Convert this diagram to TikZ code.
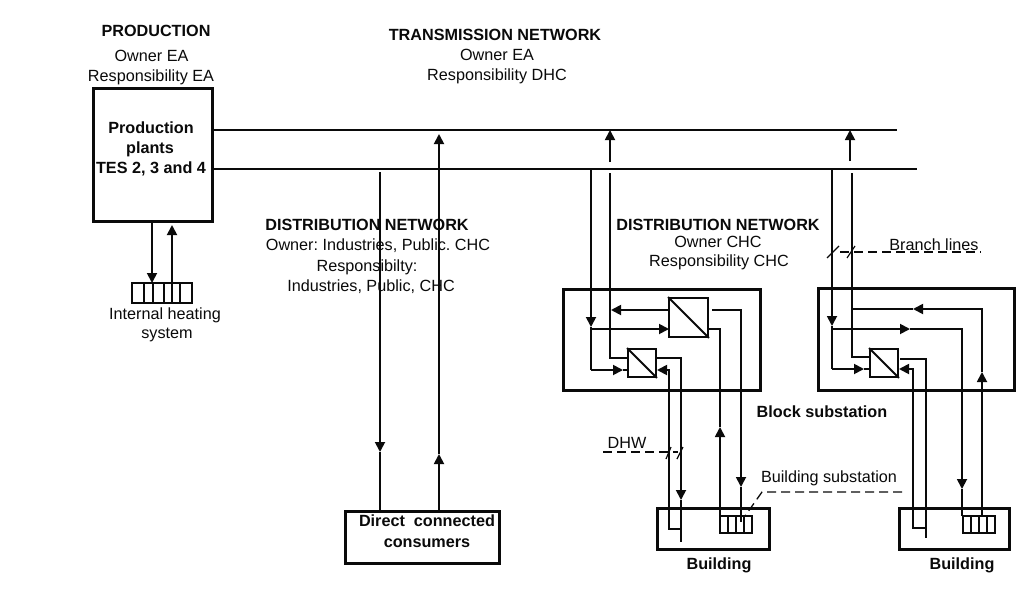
\documentclass[tikz,border=0pt]{standalone}
\usepackage{fontspec}
\setmainfont{Liberation Sans}
\usetikzlibrary{arrows.meta}
\definecolor{ink}{HTML}{0A0A0A}
\frenchspacing
\tikzset{
  x=1pt,y=-1pt,
  pipe/.style={draw=ink,line width=1.8pt,line join=miter},
  arr/.style={pipe,-{Triangle[length=10pt,width=10pt]}},
  heavy/.style={draw=ink,line width=3pt,rectangle,inner sep=0pt},
  exch/.style={draw=ink,line width=1.8pt,rectangle,inner sep=0pt},
  rad/.style={draw=ink,line width=1.5pt,rectangle,inner sep=0pt},
  lead/.style={draw=ink,line width=1.3pt,dash pattern=on 9pt off 5pt},
  tick/.style={draw=ink,line width=1.2pt},
  txt/.style={inner sep=0pt,text=ink,font=\fontsize{16.2}{18}\selectfont},
  btxt/.style={txt,font=\fontsize{16.2}{18}\selectfont\bfseries}
}
\begin{document}
\begin{tikzpicture}
\useasboundingbox[fill=white] (0,0) rectangle (1031,592);
% boxes
\node[heavy,minimum width=119pt,minimum height=133pt] (prod) at (152.5,154.5) {};
\node[heavy,minimum width=154pt,minimum height=52pt] (direct) at (422,537) {};
\node[heavy,minimum width=197pt,minimum height=101pt] (block1) at (661.5,339.5) {};
\node[heavy,minimum width=196pt,minimum height=102pt] (block2) at (916,339) {};
\node[heavy,minimum width=112pt,minimum height=41pt] (bld1) at (713,528.5) {};
\node[heavy,minimum width=110pt,minimum height=41pt] (bld2) at (954,528.5) {};
% exchangers
\node[exch,minimum width=39pt,minimum height=39pt] (ex1) at (688.5,317.5) {};
\node[exch,minimum width=28pt,minimum height=28pt] (ex2) at (642,363) {};
\node[exch,minimum width=28pt,minimum height=28pt] (ex3) at (884,363) {};
\draw[exch] (ex1.north west) -- (ex1.south east);
\draw[exch] (ex2.north west) -- (ex2.south east);
\draw[exch] (ex3.north west) -- (ex3.south east);
% radiators
\node[rad,minimum width=60pt,minimum height=20pt] (rad0) at (162,293) {};
\node[rad,minimum width=32pt,minimum height=17pt] (rad1) at (736,524.5) {};
\node[rad,minimum width=32pt,minimum height=17pt] (rad2) at (979,524.5) {};
\foreach \x in {144,153,164,172,180} \draw[rad] (\x,283) -- (\x,303);
\foreach \x in {728,736,744} \draw[rad] (\x,516) -- (\x,533);
\foreach \x in {971,979,987} \draw[rad] (\x,516) -- (\x,533);
% mains
\coordinate (t0) at (213,130); \coordinate (t1) at (897,130);
\coordinate (b0) at (213,169); \coordinate (b1) at (917,169);
\draw[pipe] (t0) -- (t1);
\draw[pipe] (b0) -- (b1);
% internal heating
\coordinate (h1a) at (152,221); \coordinate (h1b) at (152,283);
\coordinate (h2a) at (172,283); \coordinate (h2b) at (172,225);
\draw[arr] (h1a) -- (h1b);
\draw[arr] (h2a) -- (h2b);
% direct connected
\coordinate (d1a) at (380,172); \coordinate (d1t) at (380,452); \coordinate (d1b) at (380,511);
\coordinate (d2a) at (439,511); \coordinate (d2t) at (439,454); \coordinate (d2u) at (439,134);
\draw[arr] (d1a) -- (d1t); \draw[pipe] (d1t) -- (d1b);
\draw[arr] (d2a) -- (d2t); \draw[arr] (d2t) -- (d2u);
% block 1
\coordinate (p1a) at (591,169); \coordinate (p1t) at (591,327); \coordinate (p1c) at (591,370);
\coordinate (p1d) at (623,370); \coordinate (p1e) at (628,370);
\draw[arr] (p1a) -- (p1t);
\draw[pipe] (p1t) -- (p1c);
\draw[arr] (p1c) -- (p1d);
\draw[pipe] (p1d) -- (p1e);
\coordinate (p1f) at (591,329); \coordinate (p1g) at (669,329);
\draw[arr] (p1f) -- (p1g);
\coordinate (r1u0) at (610,162); \coordinate (r1u1) at (610,130);
\draw[arr] (r1u0) -- (r1u1);
\coordinate (r1a) at (610,173); \coordinate (r1b) at (610,358); \coordinate (r1c) at (628,358);
\draw[pipe] (r1a) -- (r1b) -- (r1c);
\coordinate (r1d) at (669,310); \coordinate (r1e) at (611,310);
\draw[arr] (r1d) -- (r1e);
\coordinate (s1a) at (712,310); \coordinate (s1b) at (741,310); \coordinate (s1t) at (741,487); \coordinate (s1c) at (741,522);
\draw[arr] (s1a) -- (s1b) -- (s1t); \draw[pipe] (s1t) -- (s1c);
\coordinate (s2a) at (720,516); \coordinate (s2t) at (720,427); \coordinate (s2b) at (720,329); \coordinate (s2c) at (708,329);
\draw[arr] (s2a) -- (s2t); \draw[pipe] (s2t) -- (s2b) -- (s2c);
\coordinate (e1a) at (656,358); \coordinate (e1b) at (681,358); \coordinate (e1t) at (681,500); \coordinate (e1c) at (681,542);
\draw[arr] (e1a) -- (e1b) -- (e1t); \draw[pipe] (e1t) -- (e1c);
\coordinate (e2a) at (681,529); \coordinate (e2b) at (669,529); \coordinate (e2c) at (669,370); \coordinate (e2d) at (657,370);
\draw[arr] (e2a) -- (e2b) -- (e2c) -- (e2d);
% block 2
\coordinate (p2a) at (832,169); \coordinate (p2t) at (832,326); \coordinate (p2c) at (832,369);
\coordinate (p2d) at (864,369); \coordinate (p2e) at (870,369);
\draw[arr] (p2a) -- (p2t);
\draw[pipe] (p2t) -- (p2c);
\draw[arr] (p2c) -- (p2d);
\draw[pipe] (p2d) -- (p2e);
\coordinate (u2a) at (850,161); \coordinate (u2b) at (850,130);
\draw[arr] (u2a) -- (u2b);
\coordinate (r2a) at (852,173); \coordinate (r2b) at (852,357); \coordinate (r2c) at (870,357);
\draw[pipe] (r2a) -- (r2b) -- (r2c);
\coordinate (q1a) at (832,329); \coordinate (q1t) at (910,329); \coordinate (q1b) at (962,329); \coordinate (q1v) at (962,489); \coordinate (q1e) at (962,516);
\draw[arr] (q1a) -- (q1t);
\draw[arr] (q1t) -- (q1b) -- (q1v);
\draw[pipe] (q1v) -- (q1e);
\coordinate (q2a) at (982,516); \coordinate (q2t) at (982,372); \coordinate (q2b) at (982,309); \coordinate (q2l) at (913,309); \coordinate (q2e) at (852,309);
\draw[arr] (q2a) -- (q2t);
\draw[arr] (q2t) -- (q2b) -- (q2l);
\draw[pipe] (q2l) -- (q2e);
\coordinate (w1a) at (900,359); \coordinate (w1b) at (926,359); \coordinate (w1c) at (926,538);
\draw[pipe] (w1a) -- (w1b) -- (w1c);
\coordinate (w2a) at (926,528); \coordinate (w2b) at (913,528); \coordinate (w2c) at (913,369); \coordinate (w2d) at (899,369);
\draw[arr] (w2a) -- (w2b) -- (w2c) -- (w2d);
% leaders and ticks
\coordinate (bl0) at (840,252); \coordinate (bl1) at (981,252);
\draw[lead] (bl0) -- (bl1);
\coordinate (bt1a) at (827,258); \coordinate (bt1b) at (839,246);
\coordinate (bt2a) at (847,258); \coordinate (bt2b) at (855,246);
\draw[tick] (bt1a) -- (bt1b);
\draw[tick] (bt2a) -- (bt2b);
\coordinate (dh0) at (603,452); \coordinate (dh1) at (678,452);
\draw[lead] (dh0) -- (dh1);
\coordinate (dt1a) at (666,459); \coordinate (dt1b) at (671,447);
\coordinate (dt2a) at (677,459); \coordinate (dt2b) at (683,447);
\draw[tick] (dt1a) -- (dt1b);
\draw[tick] (dt2a) -- (dt2b);
\coordinate (bs0) at (902,492); \coordinate (bs1) at (762,492); \coordinate (bs2) at (745,516);
\draw[lead] (bs0) -- (bs1) -- (bs2);
% texts
\node[btxt] (tprod) at (156,31) {PRODUCTION};
\node[txt] (tprod1) at (151.5,56) {Owner EA};
\node[txt] (tprod2) at (151,77) {Responsibility EA};
\node[btxt] (tplant1) at (151,128) {Production};
\node[btxt] (tplant2) at (150,149) {plants};
\node[btxt] (tplant3) at (151,169) {TES 2, 3 and 4};
\node[btxt] (ttr) at (495,35) {TRANSMISSION NETWORK};
\node[txt] (ttr1) at (497,55) {Owner EA};
\node[txt] (ttr2) at (497,76) {Responsibility DHC};
\node[btxt] (tdl) at (367,225) {DISTRIBUTION NETWORK};
\node[txt] (tdl1) at (378,246) {Owner: Industries, Public. CHC};
\node[txt] (tdl2) at (367,267) {Responsibilty:};
\node[txt] (tdl3) at (371,287) {Industries, Public, CHC};
\node[btxt] (tdr) at (718,225) {DISTRIBUTION NETWORK};
\node[txt] (tdr1) at (718,242) {Owner CHC};
\node[txt] (tdr2) at (719,262) {Responsibility CHC};
\node[txt] (tbl) at (934,245) {Branch lines};
\node[btxt] (tbs) at (822,412) {Block substation};
\node[txt] (tdhw) at (627,443) {DHW};
\node[txt] (tbsub) at (829,478) {Building substation};
\node[btxt] (tb1) at (719,565) {Building};
\node[btxt] (tb2) at (962,565) {Building};
\node[btxt] (tdc1) at (427,521) {Direct\ \ connected};
\node[btxt] (tdc2) at (427,543) {consumers};
\node[txt] (tih1) at (165,315) {Internal heating};
\node[txt] (tih2) at (167,334.5) {system};
\end{tikzpicture}
\end{document}
